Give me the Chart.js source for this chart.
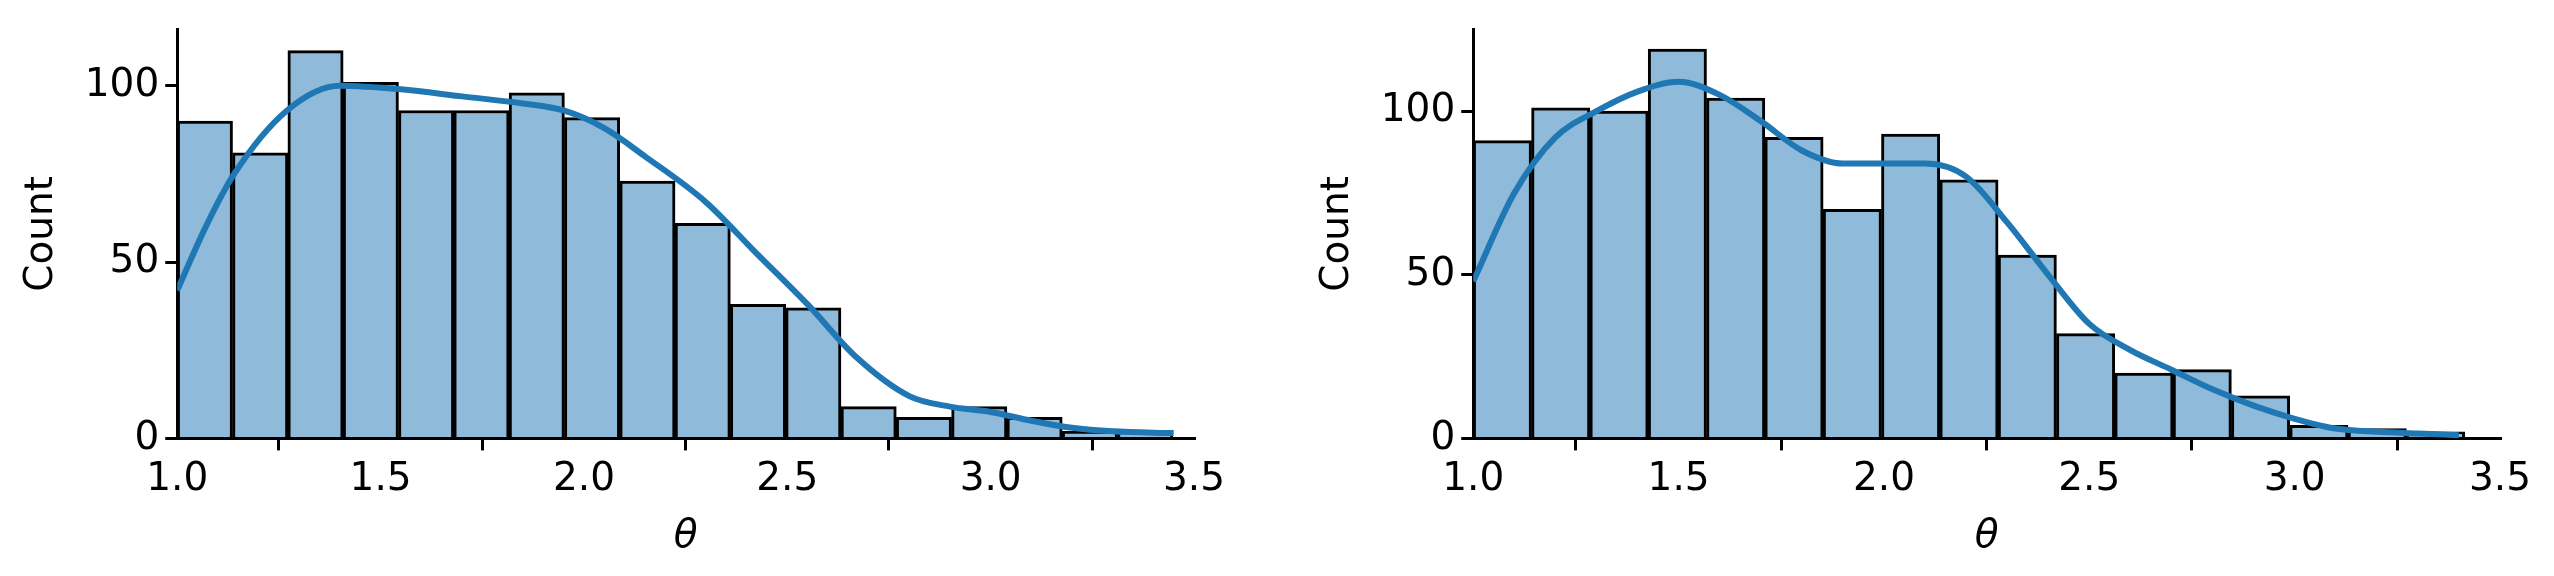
<!DOCTYPE html>
<html><head><meta charset="utf-8">
<script src="https://cdn.jsdelivr.net/npm/chart.js@4"></script>
<style>
body{margin:0;background:#fff;width:2554px;height:576px;position:relative;overflow:hidden}
.box{position:absolute;top:0;height:576px}
</style></head><body>
<div class="box" style="left:0;width:1250px"><canvas id="c1"></canvas></div>
<div class="box" style="left:1290px;width:1264px"><canvas id="c2"></canvas></div>
<script>
// left panel: 18 bins from 1.0, width ~0.136
const leftBinStart = 1.0, leftBinWidth = 0.136;
const leftCounts = [90, 81, 110, 101, 93, 93, 98, 91, 73, 61, 38, 37, 9, 6, 9, 6, 2, 2];
const leftKdeX = [1.0, 1.07, 1.14, 1.27, 1.4, 1.55, 1.7, 1.85, 1.95, 2.05, 2.15, 2.3, 2.42, 2.55, 2.67, 2.8, 2.9, 3.0, 3.1, 3.2, 3.3, 3.45];
const leftKdeY = [42, 60, 75, 93, 100, 99, 97, 95, 93, 88, 80, 67, 53, 38, 23, 12, 9, 7.5, 5, 3, 2, 1.5];
// right panel: 17 bins from 1.0, width ~0.142
const rightBinStart = 1.0, rightBinWidth = 0.142;
const rightCounts = [91, 101, 100, 119, 104, 92, 70, 93, 79, 56, 32, 20, 21, 13, 4, 3, 2];
const rightKdeX = [1.0, 1.1, 1.2, 1.3, 1.4, 1.5, 1.6, 1.7, 1.8, 1.9, 2.0, 2.1, 2.2, 2.3, 2.4, 2.5, 2.6, 2.7, 2.8, 2.9, 3.0, 3.1, 3.2, 3.3, 3.4];
const rightKdeY = [48, 75, 92, 100, 106, 109, 105, 97, 88, 84, 84, 84, 80, 66, 50, 35, 27, 21, 15, 10, 6, 3, 2, 1.5, 1];
const yTicks = [0, 50, 100];

const FONT = {family: 'DejaVu Sans', size: 39};

function draw(id, start, width, counts, kx, ky, yMax, pad) {
  const bars = counts.map((c, i) => ({x: start + width * (i + 0.5), y: c}));
  const kde = kx.map((x, i) => ({x, y: ky[i]}));
  new Chart(document.getElementById(id), {
    data: {
      datasets: [
        {type: 'line', data: kde, borderColor: '#1f77b4', borderWidth: 6, pointRadius: 0,
         cubicInterpolationMode: 'monotone', fill: false, order: 0},
        {type: 'bar', data: bars, backgroundColor: '#8fbad9', borderColor: '#000', borderWidth: 3,
         barPercentage: 1, categoryPercentage: 1, grouped: false, order: 1}
      ]
    },
    options: {
      responsive: true, maintainAspectRatio: false, animation: false, devicePixelRatio: 1,
      layout: {padding: pad},
      plugins: {legend: {display: false}, tooltip: {enabled: false}},
      scales: {
        x: {
          type: 'linear', min: 1.0, max: 3.5, offset: false,
          ticks: {font: FONT, color: '#000', padding: 6, maxRotation: 0, stepSize: 0.5, callback: v => v.toFixed(1)},
          grid: {drawOnChartArea: false, drawTicks: true, tickLength: 12, color: '#000', lineWidth: 3},
          border: {display: true, color: '#000', width: 3},
          title: {display: true, text: 'θ', font: {...FONT, style: 'italic'}, color: '#000', padding: {top: 4}}
        },
        y: {
          min: 0, max: yMax,
          afterBuildTicks: s => { s.ticks = yTicks.map(v => ({value: v})); },
          ticks: {font: FONT, color: '#000', padding: 6},
          grid: {drawOnChartArea: false, drawTicks: true, tickLength: 12, color: '#000', lineWidth: 3},
          border: {display: true, color: '#000', width: 3},
          title: {display: true, text: 'Count', font: FONT, color: '#000', padding: {bottom: 14}}
        }
      }
    }
  });
}
draw('c1', leftBinStart, leftBinWidth, leftCounts, leftKdeX, leftKdeY, 116, {left: 14, top: 20, right: 56, bottom: 12});
draw('c2', rightBinStart, rightBinWidth, rightCounts, rightKdeX, rightKdeY, 125, {left: 20, top: 20, right: 54, bottom: 12});
</script>
</body></html>
